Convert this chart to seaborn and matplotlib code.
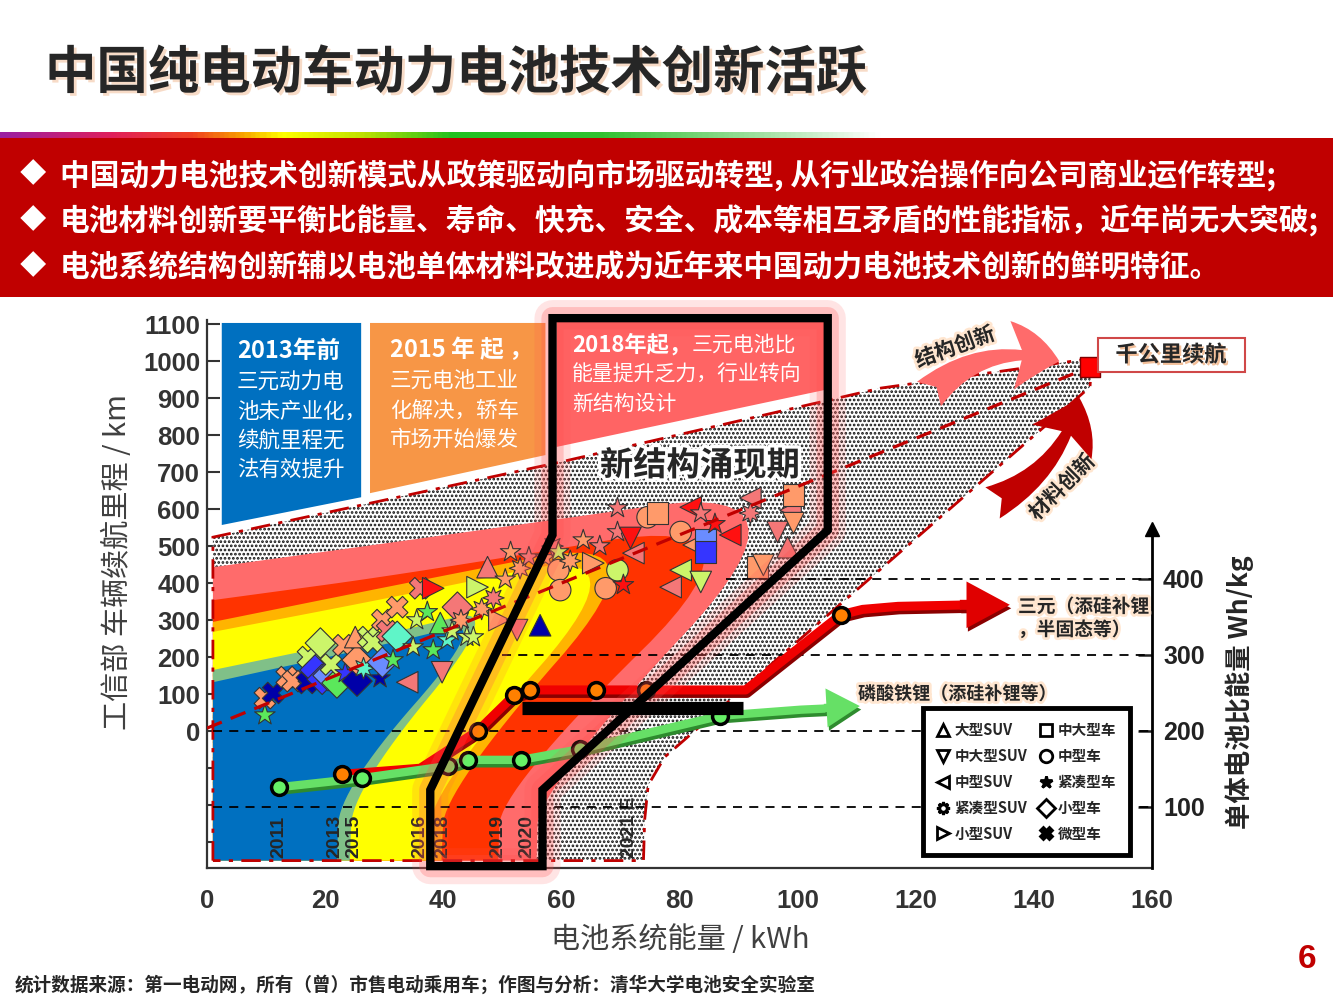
import numpy as np
import pandas as pd
import matplotlib
matplotlib.use("Agg")
import matplotlib.pyplot as plt
import matplotlib.patheffects as pe
from matplotlib.patches import Polygon, Rectangle, FancyArrowPatch
from matplotlib.lines import Line2D
from matplotlib.colors import LinearSegmentedColormap
import seaborn as sns

sns.set_style("white")
plt.rcParams['font.family'] = ['Noto Sans CJK SC', 'DejaVu Sans']
plt.rcParams['axes.unicode_minus'] = False
plt.rcParams['hatch.linewidth'] = 1.3

# ---------------- data ----------------
title = '中国纯电动车动力电池技术创新活跃'
bullets = ['中国动力电池技术创新模式从政策驱动向市场驱动转型, 从行业政治操作向公司商业运作转型;',
           '电池材料创新要平衡比能量、寿命、快充、安全、成本等相互矛盾的性能指标，近年尚无大突破;',
           '电池系统结构创新辅以电池单体材料改进成为近年来中国动力电池技术创新的鲜明特征。']

veh_names = {'suv_l': '大型SUV', 'suv_ml': '中大型SUV', 'suv_m': '中型SUV', 'suv_c': '紧凑型SUV',
             'suv_s': '小型SUV', 'car_ml': '中大型车', 'car_m': '中型车', 'car_c': '紧凑型车',
             'car_s': '小型车', 'car_xs': '微型车'}
veh_markers = {'suv_l': '^', 'suv_ml': 'v', 'suv_m': '<', 'suv_c': (8, 1, 0), 'suv_s': '>',
               'car_ml': 's', 'car_m': 'o', 'car_c': '*', 'car_s': 'D', 'car_xs': 'X'}
grp_colors = {'navy': '#0000A8', 'blue': '#3535FF', 'sky': '#6A8CFF', 'green': '#5BE85B',
              'aqua': '#5FF5C8', 'lime': '#CCF56A', 'salmon': '#FF9A6A', 'pink': '#F47777',
              'red': '#FF1010'}

# (kWh, km, vehicle type, colour group)
ev_early = [
    (9.8, 43, 'car_c', 'green'), (9.8, 89, 'car_xs', 'salmon'), (11.2, 103, 'car_xs', 'navy'),
    (13.5, 146, 'car_xs', 'salmon'), (14.5, 135, 'car_xs', 'salmon'), (16.9, 130, 'car_xs', 'navy'),
    (17.1, 200, 'car_xs', 'lime'), (18.3, 165, 'car_s', 'blue'), (19.5, 140, 'car_s', 'blue'),
    (19.2, 238, 'car_s', 'lime'), (20.5, 150, 'car_s', 'sky'), (22.0, 130, 'car_s', 'green'),
    (21.0, 180, 'car_xs', 'lime'), (23.1, 232, 'car_xs', 'salmon'), (23.4, 157, 'car_c', 'blue'),
    (25.4, 135, 'car_s', 'navy'), (25.4, 192, 'car_s', 'salmon'), (25.1, 254, 'suv_l', 'salmon'),
    (26.5, 170, 'suv_c', 'aqua'), (27.3, 254, 'car_xs', 'lime'), (28.1, 240, 'car_xs', 'lime'),
    (29.3, 143, 'car_c', 'navy'), (29.7, 186, 'car_s', 'sky'), (29.7, 300, 'car_xs', 'salmon'),
    (30.5, 270, 'car_xs', 'pink'), (31.5, 192, 'car_c', 'green'), (32.2, 335, 'car_xs', 'salmon'),
    (32.2, 256, 'car_s', 'aqua'),
]
ev_mid = [
    (33.9, 132, 'suv_m', 'pink'), (34.9, 227, 'car_c', 'lime'), (35.5, 300, 'car_c', 'lime'),
    (36.1, 386, 'car_xs', 'pink'), (37.3, 322, 'car_c', 'green'), (38.3, 386, 'suv_s', 'red'),
    (38.3, 219, 'car_c', 'green'), (39.5, 292, 'suv_l', 'green'), (39.8, 159, 'suv_ml', 'pink'),
    (40.7, 246, 'car_c', 'aqua'), (41.5, 270, 'car_c', 'lime'), (42.4, 335, 'car_s', 'pink'),
    (43.0, 300, 'suv_c', 'salmon'), (44.0, 255, 'car_c', 'lime'), (45.1, 254, 'car_c', 'lime'),
    (45.8, 389, 'suv_s', 'lime'), (46.5, 330, 'suv_c', 'salmon'), (47.5, 443, 'suv_l', 'pink'),
    (48.5, 360, 'suv_c', 'pink'), (49.5, 300, 'suv_s', 'salmon'), (50.5, 410, 'car_c', 'salmon'),
    (51.4, 484, 'car_c', 'salmon'), (52.5, 273, 'suv_ml', 'pink'), (53.0, 440, 'suv_c', 'salmon'),
    (54.5, 470, 'car_c', 'pink'), (56.4, 286, 'suv_l', 'navy'), (57.3, 468, 'car_c', 'salmon'),
    (58.5, 500, 'suv_c', 'pink'), (59.5, 484, 'car_c', 'lime'), (59.5, 435, 'car_m', 'salmon'),
    (59.8, 381, 'car_m', 'salmon'), (61.5, 460, 'suv_c', 'salmon'), (63.7, 516, 'car_c', 'salmon'),
]
ev_late = [
    (65.4, 454, 'suv_s', 'salmon'), (66.5, 500, 'car_c', 'pink'), (67.5, 386, 'car_m', 'salmon'),
    (69.5, 435, 'car_m', 'lime'), (70.5, 395, 'car_c', 'red'), (69.5, 538, 'car_c', 'pink'),
    (69.5, 603, 'car_c', 'pink'), (71.7, 522, 'suv_ml', 'red'), (72.2, 481, 'suv_m', 'pink'),
    (74.6, 578, 'car_m', 'salmon'), (76.3, 589, 'car_ml', 'salmon'), (78.5, 389, 'suv_m', 'pink'),
    (80.2, 435, 'suv_m', 'lime'), (80.2, 538, 'car_m', 'salmon'), (81.9, 605, 'suv_m', 'red'),
    (82.4, 503, 'suv_m', 'salmon'), (83.6, 589, 'car_c', 'pink'), (83.6, 403, 'suv_ml', 'lime'),
    (84.4, 516, 'car_ml', 'sky'), (84.4, 484, 'car_ml', 'blue'), (86.0, 560, 'car_c', 'red'),
    (88.6, 530, 'suv_m', 'red'), (92.0, 589, 'suv_c', 'pink'), (92.0, 630, 'suv_m', 'pink'),
    (93.2, 443, 'car_ml', 'salmon'), (94.2, 449, 'suv_ml', 'salmon'), (96.6, 538, 'suv_ml', 'pink'),
    (98.3, 497, 'suv_l', 'pink'), (98.8, 597, 'suv_m', 'pink'), (99.3, 638, 'car_ml', 'salmon'),
    (99.3, 562, 'suv_ml', 'salmon'),
]

trend_kwh = [0, 149.5]
trend_km = [8, 984]
target_kwh = [149.5]
target_km = [984]

# cell energy density paths (x in kWh, y in Wh/kg)
ncm_kwh = [22.9, 36.1, 45.8, 52.0, 54.7, 65.9, 74.4, 91.2, 107.3, 111.0, 117.0, 129.5]
ncm_whkg = [143, 151, 200, 247, 254, 254, 254, 254, 353, 360, 364, 366]
ncm_dot = [1, 0, 1, 1, 1, 1, 1, 0, 1, 0, 0, 0]
lfp_kwh = [12.2, 26.3, 40.8, 44.2, 53.2, 63.1, 86.9, 100.5, 106.0]
lfp_whkg = [126, 138, 154, 162, 162, 176, 220, 228, 230]
lfp_dot = [1, 1, 1, 1, 1, 1, 1, 0, 0]

year_labels = ['2011', '2013', '2015', '2016', '2018', '2019', '2020', '2021 E']
year_kwh = [12.2, 21.6, 24.9, 36.1, 39.9, 49.3, 54.2, 71.5]

ref_whkg = [400, 300, 200, 100]
ref_from = [87.8, 50, 1, 1]

# background fan bands: edge from left side, over the corner, down to the bottom (kWh, km)
band_pink = [(1, 443), (46.3, 543), (105, 675), (56.1, -159), (55.8, -350)]
band_red = [(1, 354), (36.1, 430), (97.5, 595), (49.7, -159), (49.3, -350)]
band_orange = [(1, 295), (33.6, 400), (78.5, 540), (40.2, -159), (39.7, -350)]
band_yellow = [(1, 268), (33.6, 368), (74.5, 505), (38.0, -159), (37.5, -350)]
band_sage = [(1, 165), (33.6, 273), (50.5, 343), (24.6, -159), (24.2, -350)]
band_blue = [(1, 132), (33.6, 246), (48.0, 307), (22.4, -159), (22.0, -350)]
stipple_edge = [(1, -350), (1, 524), (59.8, 727), (114.1, 927), (148, 1003), (149.7, 975),
                (149.5, 930), (84.7, 30), (77.5, -70), (74.7, -146), (74.1, -240), (73.9, -350)]
window_edge = [(58.5, 1116), (105.1, 1116), (105.1, 543), (56.8, -159), (56.8, -365),
               (37.8, -365), (37.8, -159), (58.5, 530)]

W, H = 1333, 1000


def fx(x):
    return x / W


def fy(y):
    return 1 - y / H


def smooth(pts, n=4):
    p = np.asarray(pts, float)
    for _ in range(n):
        q = [p[0]]
        for a, b in zip(p[:-1], p[1:]):
            q.append(0.75 * a + 0.25 * b)
            q.append(0.25 * a + 0.75 * b)
        q.append(p[-1])
        p = np.array(q)
    return p


fig = plt.figure(figsize=(13.33, 10), dpi=100)
fig.patch.set_facecolor('white')

# ---------------- header ----------------
fig.text(fx(45), fy(73), title, fontsize=37, fontweight='heavy', va='center',
         path_effects=[pe.withSimplePatchShadow(offset=(2, -2), shadow_rgbFace='#F0B890', alpha=0.5)])

stops = [(0, '#9B1FA0'), (110 / W, '#E0205A'), (190 / W, '#F04020'), (240 / W, '#F8A000'),
         (280 / W, '#FFFF00'), (360 / W, '#C0E000'), (450 / W, '#20C020'), (600 / W, '#30C030'),
         (760 / W, '#A0E0A0'), (880 / W, '#FFFFFF'), (1, '#FFFFFF')]
rainbow = LinearSegmentedColormap.from_list('rb', stops)
gax = fig.add_axes([0, fy(138), 1, 6 / H])
gax.imshow(np.linspace(0, 1, 600)[None, :], aspect='auto', cmap=rainbow)
gax.axis('off')

fig.add_artist(Rectangle((0, fy(297)), 1, (297 - 138) / H, transform=fig.transFigure,
                         facecolor='#C00000', edgecolor='none', zorder=0))
for i, line in enumerate(bullets):
    yy = 175 + 46 * i
    fig.text(fx(33), fy(yy), '◆', color='white', fontsize=19, ha='center', va='center')
    fig.text(fx(60), fy(yy), line, color='white', fontsize=21.4, fontweight='bold', va='center')

# ---------------- main axes ----------------
ax = fig.add_axes([fx(207), fy(868), (1152 - 207) / W, (868 - 320) / H])
ax.set_xlim(0, 160)
ax.set_ylim(-370, 1111)
ax.set_facecolor('white')

ax.add_patch(Polygon(stipple_edge, closed=True, facecolor='white', edgecolor='#111111',
                     hatch='....', lw=0, zorder=1))
band_colors = ['#FF6B6B', '#FF3300', '#FFB400', '#FFFF00', '#80C088', '#0070C0']
for edge, col in zip([band_pink, band_red, band_orange, band_yellow, band_sage, band_blue], band_colors):
    curve = smooth(edge)
    poly = np.vstack([curve, [[1, -350]]])
    ax.add_patch(Polygon(poly, closed=True, facecolor=col, edgecolor='none', zorder=2))
ax.add_patch(Polygon(stipple_edge, closed=True, fill=False, edgecolor='#C00000',
                     ls=(0, (7, 3, 1.5, 3)), lw=2, zorder=2.5))

# period boxes
ax.add_patch(Polygon([(2.5, 1103), (26.1, 1103), (26.1, 632), (2.5, 557)], closed=True,
                     facecolor='#0070C0', edgecolor='none', zorder=3, clip_on=False))
ax.add_patch(Polygon([(27.6, 1103), (57.3, 1103), (57.3, 746), (27.6, 643)], closed=True,
                     facecolor='#F79646', edgecolor='none', zorder=3, clip_on=False))
ax.add_patch(Polygon([(59.2, 1116), (104.6, 1116), (104.6, 922), (59.2, 768)], closed=True,
                     facecolor='#FF6464', edgecolor='none', zorder=3, clip_on=False))

ev = pd.DataFrame(ev_early + ev_mid + ev_late, columns=['kwh', 'km', 'kind', 'grp'])
sns.scatterplot(data=ev, x='kwh', y='km', hue='grp', style='kind', palette=grp_colors,
                markers=veh_markers, s=240, edgecolor='#333333', linewidth=0.8,
                legend=False, ax=ax, zorder=4)
ax.plot(trend_kwh, trend_km, ls=(0, (5, 3)), color='#C00000', lw=2.3, zorder=5)
sns.scatterplot(x=target_kwh, y=target_km, marker='s', s=200, color='#FF0000',
                edgecolor='#800000', linewidth=1, ax=ax, zorder=6, clip_on=False)

for lab, xv in zip(year_labels, year_kwh):
    ax.text(xv, -342, lab, rotation=90, rotation_mode='anchor', ha='left', va='center',
            fontsize=14, fontweight='bold', family='Liberation Sans', zorder=5)

ax.set_xticks(range(0, 161, 20))
ax.set_yticks(range(0, 1101, 100))
ax.set_yticks([-300, -200, -100], minor=True)
ax.tick_params(axis='x', direction='in', length=9, width=1.5, labelsize=18.5, pad=15,
               colors='#333333')
ax.tick_params(axis='y', which='both', direction='in', length=9, width=1.5, labelsize=18.5,
               pad=5, colors='#333333')
ax.set_xlabel('')
ax.set_ylabel('')
for side in ['top', 'right']:
    ax.spines[side].set_visible(False)
for side in ['left', 'bottom']:
    ax.spines[side].set_color('#333333')
    ax.spines[side].set_linewidth(1.6)

# ---------------- cell energy density (right axis) ----------------
ax2 = ax.twinx()
ax2.set_ylim(19.7, 740.8)
for side in ['top', 'left', 'bottom']:
    ax2.spines[side].set_visible(False)
ax2.spines['right'].set_bounds(19.7, 462)
ax2.spines['right'].set_linewidth(2)
ax2.spines['right'].set_color('black')
ax2.plot([160], [466], marker='^', ms=10, color='black', clip_on=False, zorder=6)
ax2.set_yticks(ref_whkg)
ax2.tick_params(axis='y', direction='in', length=10, width=1.8, labelsize=18, pad=8,
                colors='#222222')
ax2.set_ylabel('')

for val, x0 in zip(ref_whkg, ref_from):
    ax2.plot([x0, 160], [val, val], ls=(0, (5, 4)), color='black', lw=1.3, zorder=1)

sns.lineplot(x=ncm_kwh, y=ncm_whkg, sort=False, color='#F00000', lw=6.5, ax=ax2, zorder=3)
ax2.lines[-1].set_path_effects([pe.SimpleLineShadow(offset=(1, -2.5), shadow_color='#8A0000', alpha=1),
                                pe.Normal()])
sns.lineplot(x=lfp_kwh, y=lfp_whkg, sort=False, color='#66E066', lw=6, ax=ax2, zorder=3)
ax2.lines[-1].set_path_effects([pe.SimpleLineShadow(offset=(1, -2.5), shadow_color='#2E8B2E', alpha=1),
                                pe.Normal()])
ax2.add_patch(FancyArrowPatch((127.0, 366), (136.4, 366), arrowstyle='simple,head_length=1.3,head_width=1.4,tail_width=0.3',
                              mutation_scale=24, color='#E00000', lw=0, zorder=3,
                              path_effects=[pe.SimplePatchShadow(offset=(1, -2.5), shadow_rgbFace='#8A0000', alpha=1),
                                            pe.Normal()]))
ax2.add_patch(FancyArrowPatch((104.0, 230), (111.0, 233), arrowstyle='simple,head_length=1.2,head_width=1.4,tail_width=0.3',
                              mutation_scale=20, color='#66E066', lw=0, zorder=3,
                              path_effects=[pe.SimplePatchShadow(offset=(1, -2.5), shadow_rgbFace='#2E8B2E', alpha=1),
                                            pe.Normal()]))
ncm_pts = [(x, y) for x, y, d in zip(ncm_kwh, ncm_whkg, ncm_dot) if d]
lfp_pts = [(x, y) for x, y, d in zip(lfp_kwh, lfp_whkg, lfp_dot) if d]
sns.scatterplot(x=[p[0] for p in ncm_pts], y=[p[1] for p in ncm_pts], s=130, color='#FF8000',
                edgecolor='black', linewidth=2.5, ax=ax2, zorder=4)
sns.scatterplot(x=[p[0] for p in lfp_pts], y=[p[1] for p in lfp_pts], s=130, color='#66F066',
                edgecolor='black', linewidth=2.5, ax=ax2, zorder=4)

# "new structure" window with glow
for lw_, a_ in [(26, 0.15), (16, 0.25)]:
    ax2.add_patch(Polygon(window_edge, closed=True, fill=False, edgecolor='#FF5050', lw=lw_,
                          alpha=a_, transform=ax.transData, clip_on=False, zorder=5,
                          joinstyle='round'))
ax2.add_patch(Polygon(window_edge, closed=True, fill=False, edgecolor='black', lw=6,
                      transform=ax.transData, clip_on=False, zorder=5, joinstyle='miter'))
ax2.plot([53.4, 90.8], [230, 230], color='black', lw=9.5, solid_capstyle='butt', zorder=6)

# legend of vehicle classes
leg_order = ['suv_l', 'suv_ml', 'suv_m', 'suv_c', 'suv_s', 'car_ml', 'car_m', 'car_c', 'car_s', 'car_xs']
handles = [Line2D([], [], ls='none', marker=veh_markers[k],
                  mfc='black' if k in ('car_c', 'car_xs') else 'white',
                  mec='black', mew=2, ms=9) for k in leg_order]
leg = ax2.legend(handles, [veh_names[k] for k in leg_order], ncol=2, loc='upper left',
                 bbox_to_anchor=(fx(923), fy(708)), bbox_transform=fig.transFigure,
                 frameon=True, fancybox=False, edgecolor='black', framealpha=1,
                 prop={'family': 'Noto Sans CJK SC', 'weight': 'bold', 'size': 10.5},
                 handlelength=0.8, handletextpad=0.4, columnspacing=0.9, labelspacing=0.68,
                 borderpad=0.95, borderaxespad=0)
leg.get_frame().set_linewidth(3.5)
leg.set_zorder(10)

# ---------------- axis titles and notes ----------------
fig.text(fx(118), fy(562), '工信部 车辆续航里程 / km', rotation=90, fontsize=21, color='#404040',
         ha='center', va='center')
fig.text(fx(680), fy(940), '电池系统能量 / kWh', fontsize=21, color='#404040', ha='center', va='center')
fig.text(fx(1240), fy(692), '单体电池比能量 Wh/kg', rotation=90, fontsize=19, fontweight='bold',
         ha='center', va='center')

white = dict(color='white', va='center')
fig.text(fx(237), fy(351), '2013年前', fontsize=17, fontweight='bold', **white)
for i, s in enumerate(['三元动力电', '池未产业化，', '续航里程无', '法有效提升']):
    fig.text(fx(237), fy(382 + 29.3 * i), s, fontsize=15.5, **white)
fig.text(fx(390), fy(350), '2015 年 起 ，', fontsize=17, fontweight='bold', **white)
for i, s in enumerate(['三元电池工业', '化解决，轿车', '市场开始爆发']):
    fig.text(fx(390), fy(381 + 29.3 * i), s, fontsize=15.5, **white)
fig.text(fx(572), fy(345), '2018年起，', fontsize=16, fontweight='bold', **white)
fig.text(fx(692), fy(345), '三元电池比', fontsize=15, **white)
fig.text(fx(572), fy(375), '能量提升乏力，行业转向', fontsize=15, **white)
fig.text(fx(572), fy(404), '新结构设计', fontsize=15, **white)

fig.text(fx(700), fy(466), '新结构涌现期', fontsize=24, fontweight='heavy', ha='center', va='center',
         path_effects=[pe.withStroke(linewidth=5, foreground='white')])

fig.add_artist(Rectangle((fx(1098), fy(372)), 147 / W, 34 / H, transform=fig.transFigure,
                         facecolor='white', edgecolor='#D04848', lw=1.5, zorder=4))
fig.text(fx(1171), fy(355), '千公里续航', fontsize=16, fontweight='bold', ha='center', va='center',
         zorder=5, path_effects=[pe.withSimplePatchShadow(offset=(1.5, -1.5), shadow_rgbFace='#F0B080', alpha=0.8)])

fig.add_artist(FancyArrowPatch((fx(927), fy(396)), (fx(1062), fy(362)), transform=fig.transFigure,
                               connectionstyle='arc3,rad=-0.3',
                               arrowstyle='fancy,head_length=0.9,head_width=1.3,tail_width=0.65',
                               mutation_scale=38, color='#FF6B6B', lw=0, zorder=4))
fig.add_artist(FancyArrowPatch((fx(990), fy(504)), (fx(1080), fy(395)), transform=fig.transFigure,
                               connectionstyle='arc3,rad=0.25',
                               arrowstyle='fancy,head_length=0.9,head_width=1.3,tail_width=0.65',
                               mutation_scale=38, color='#C00000', lw=0, zorder=4))
glow = [pe.withStroke(linewidth=4, foreground='#FFE6D0')]
fig.text(fx(955), fy(347), '结构创新', rotation=20, fontsize=15, fontweight='bold', ha='center',
         va='center', path_effects=glow)
fig.text(fx(1062), fy(487), '材料创新', rotation=45, fontsize=15, fontweight='bold', ha='center',
         va='center', path_effects=glow)

fig.text(fx(1018), fy(607), '三元（添硅补锂', fontsize=13.5, fontweight='bold', va='center',
         path_effects=glow)
fig.text(fx(1018), fy(630), '，半固态等）', fontsize=13.5, fontweight='bold', va='center',
         path_effects=glow)
fig.text(fx(858), fy(694), '磷酸铁锂（添硅补锂等）', fontsize=13, fontweight='bold', va='center',
         path_effects=glow)

fig.text(fx(15), fy(985), '统计数据来源：第一电动网，所有（曾）市售电动乘用车；作图与分析：清华大学电池安全实验室',
         fontsize=13.4, fontweight='bold', va='center')
fig.text(fx(1307), fy(960), '6', fontsize=24, fontweight='bold', color='#C00000', ha='center',
         va='center', family='Liberation Sans')

for lab in ax.get_xticklabels() + ax.get_yticklabels() + ax2.get_yticklabels():
    lab.set_fontfamily('Liberation Sans')
    lab.set_fontweight('bold')

fig.savefig('out.png', dpi=100, facecolor='white')
